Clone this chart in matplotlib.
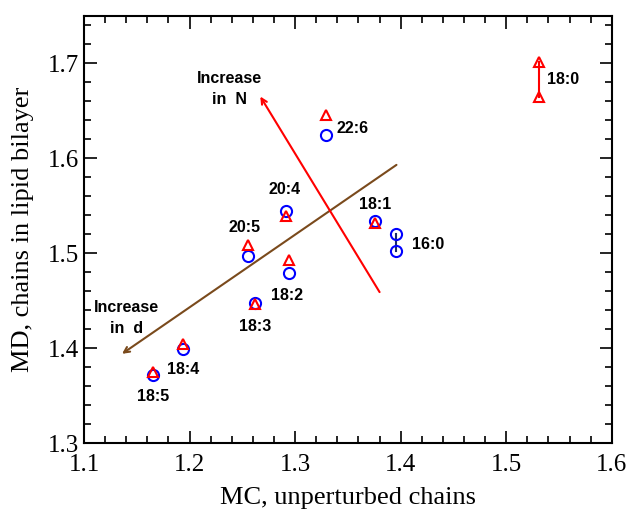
import matplotlib.pyplot as plt
from matplotlib.ticker import MultipleLocator

# lipid chains: MC (unperturbed) vs MD (in bilayer)
labels = ["18:5", "18:4", "18:3", "18:2", "20:5", "20:4", "22:6", "18:1"]
mc = [1.165, 1.194, 1.262, 1.294, 1.255, 1.291, 1.329, 1.376]
md_circle = [1.372, 1.399, 1.447, 1.479, 1.497, 1.544, 1.625, 1.534]
md_triangle = [1.375, 1.404, 1.446, 1.493, 1.509, 1.539, 1.646, 1.532]

# saturated chains drawn as ranges
mc_160 = [1.396, 1.396]
md_160 = [1.520, 1.502]
mc_180 = [1.531, 1.531]
md_180 = [1.701, 1.665]

# label offsets in points (dx, dy) relative to the lower / upper marker
label_pos = {
    "18:5": (0, -16, "center"),
    "18:4": (0, -15, "center"),
    "18:3": (0, -16, "center"),
    "18:2": (-1, -16, "center"),
    "20:5": (-2, 12, "center"),
    "20:4": (-1, 16, "center"),
    "22:6": (8, -10, "left"),
    "18:1": (0, 12, "center"),
}

fig = plt.figure(figsize=(6.32, 5.11), dpi=100)
ax = fig.add_axes([0.133, 0.133, 0.835, 0.836])

lab_font = dict(family=["Liberation Sans Narrow", "Liberation Sans"], fontweight="bold", fontsize=11.5)

ax.plot(mc_160, md_160, color="#1a2a6c", lw=1.5, zorder=2)
ax.plot(mc_180, md_180, color="red", lw=1.5, zorder=2)
ax.plot(mc + mc_160, md_circle + md_160, "o", mfc="none", mec="blue", mew=1.5, ms=8, ls="none", zorder=3)
ax.plot(mc + mc_180, md_triangle + md_180, "^", mfc="none", mec="red", mew=1.5, ms=7.5, ls="none", zorder=4)

for name, x, yc, yt in zip(labels, mc, md_circle, md_triangle):
    dx, dy, ha = label_pos[name]
    y = min(yc, yt) if dy < 0 else max(yc, yt)
    if name == "22:6":
        y = yt
    ax.annotate(name, (x, y), xytext=(dx, dy), textcoords="offset points",
                ha=ha, va="center", **lab_font)
ax.annotate("16:0", (mc_160[0], sum(md_160) / 2), xytext=(11, -1), textcoords="offset points",
            ha="left", va="center", **lab_font)
ax.annotate("18:0", (mc_180[0], sum(md_180) / 2), xytext=(6, 0), textcoords="offset points",
            ha="left", va="center", **lab_font)

# trend arrows
ax.annotate("", xy=(1.136, 1.394), xytext=(1.396, 1.593),
            arrowprops=dict(arrowstyle="->", color="#7a4a1c", lw=1.5, shrinkA=0, shrinkB=0))
ax.annotate("", xy=(1.267, 1.665), xytext=(1.380, 1.459),
            arrowprops=dict(arrowstyle="->", color="red", lw=1.5, shrinkA=0, shrinkB=0))
ax.text(1.238, 1.673, "Increase\nin  N", ha="center", va="center",
        linespacing=1.5, **lab_font)
ax.text(1.140, 1.432, "Increase\nin  d", ha="center", va="center",
        linespacing=1.5, **lab_font)

ax.set_xlim(1.1, 1.6)
ax.set_ylim(1.3, 1.75)
ax.xaxis.set_major_locator(MultipleLocator(0.1))
ax.xaxis.set_minor_locator(MultipleLocator(0.02))
ax.yaxis.set_major_locator(MultipleLocator(0.1))
ax.yaxis.set_minor_locator(MultipleLocator(0.02))
ax.tick_params(which="both", direction="in", top=True, right=True, width=1.2)
ax.tick_params(which="major", length=9)
ax.tick_params(which="minor", length=5)
for lbl in ax.get_xticklabels() + ax.get_yticklabels():
    lbl.set_family("Liberation Serif")
    lbl.set_fontsize(18)
ax.tick_params(axis="x", pad=8)
for sp in ax.spines.values():
    sp.set_linewidth(1.5)

ax.set_xlabel("MC, unperturbed chains", family="Liberation Serif", fontsize=19, labelpad=8)
ax.set_ylabel("MD, chains in lipid bilayer", family="Liberation Serif", fontsize=19, labelpad=10)

fig.savefig("out.png", dpi=100)
